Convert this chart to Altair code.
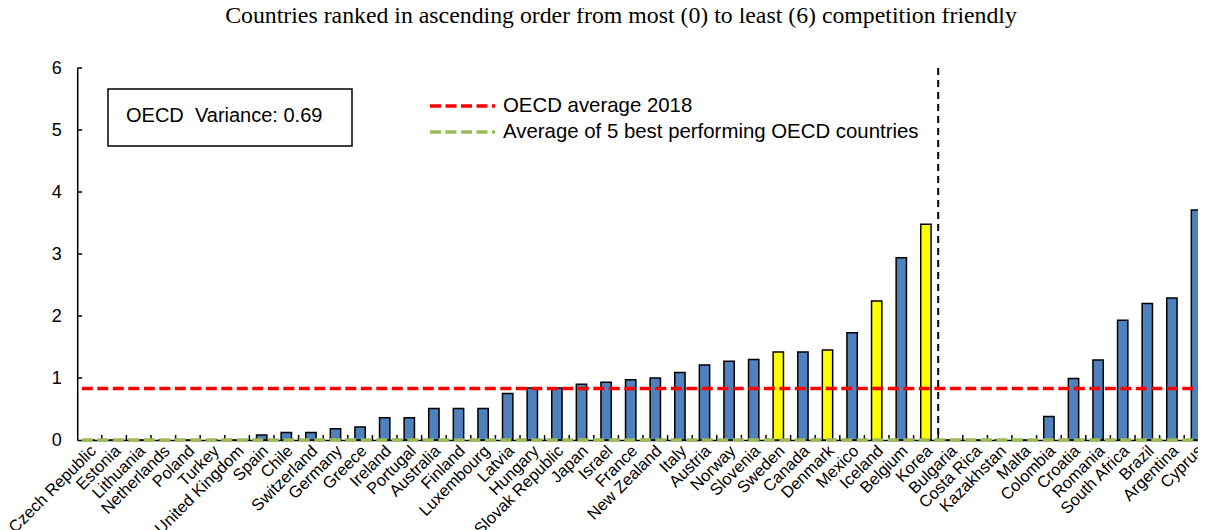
import altair as alt
import pandas as pd

countries = ["Czech Republic", "Estonia", "Lithuania", "Netherlands", "Poland", "Turkey",
             "United Kingdom", "Spain", "Chile", "Switzerland", "Germany", "Greece", "Ireland",
             "Portugal", "Australia", "Finland", "Luxembourg", "Latvia", "Hungary",
             "Slovak Republic", "Japan", "Israel", "France", "New Zealand", "Italy", "Austria",
             "Norway", "Slovenia", "Sweden", "Canada", "Denmark", "Mexico", "Iceland", "Belgium",
             "Korea", "Bulgaria", "Costa Rica", "Kazakhstan", "Malta", "Colombia", "Croatia",
             "Romania", "South Africa", "Brazil", "Argentina", "Cyprus"]
values = [0, 0, 0, 0, 0, 0, 0, 0.08, 0.12, 0.12, 0.18, 0.21, 0.36, 0.36, 0.51, 0.51, 0.51,
          0.75, 0.84, 0.84, 0.90, 0.93, 0.97, 1.00, 1.09, 1.21, 1.27, 1.30, 1.42, 1.42, 1.45,
          1.73, 2.24, 2.94, 3.48, 0, 0, 0, 0, 0.38, 0.99, 1.29, 1.93, 2.20, 2.29, 3.71]
highlighted = ["Sweden", "Denmark", "Iceland", "Korea"]
y_ticks = [0, 1, 2, 3, 4, 5, 6]
oecd_average = 0.83
best5_average = 0.0
divider_after = "Korea"
variance_text = "OECD\u00a0 Variance:\u00a00.69"
legend_labels = ["OECD average 2018", "Average of 5 best performing OECD countries"]
title_text = "Countries ranked in ascending order from most (0) to least (6) competition friendly"

SANS = "Liberation Sans"
SERIF = "Liberation Serif"
PAD_INNER = 0.58
STEP = 24.6
WIDTH = STEP * len(countries)
HEIGHT = 372
LEFT = 69.2          # page x of plot origin = 8 + LEFT
SVG_W = 1190         # available width inside the page margins
RIGHT = SVG_W - LEFT - WIDTH   # negative: the plot runs past the right edge, as in the original
OX = 8 + LEFT

df = pd.DataFrame({
    "country": countries,
    "value": values,
    "group": ["yellow" if c in highlighted else "blue" for c in countries],
})

xscale = alt.Scale(domain=countries, paddingInner=PAD_INNER, paddingOuter=PAD_INNER / 2)
yscale = alt.Scale(domain=[0, 6])

bars = alt.Chart(df).mark_bar(stroke="black", strokeWidth=1.5).encode(
    x=alt.X("country:N", scale=xscale, sort=countries, title=None,
            axis=alt.Axis(labelAngle=-45, labelAlign="right", labelBaseline="middle",
                          labelFont=SANS, labelFontSize=16.5, labelColor="black",
                          labelPadding=3, labelOffset=4, tickSize=5, tickOpacity=0,
                          domainColor="black", domainWidth=1.5, labelOverlap=False,
                          labelBound=False)),
    y=alt.Y("value:Q", scale=yscale, title=None,
            axis=alt.Axis(values=y_ticks, format="d", labelFont=SANS, labelFontSize=18,
                          labelColor="black", labelPadding=11, tickSize=5, tickOpacity=0,
                          domainColor="black", domainWidth=1.5, gridColor="white",
                          gridWidth=1.2)),
    color=alt.Color("group:N", scale=alt.Scale(domain=["blue", "yellow"],
                                               range=["#4F81BD", "#FFFF00"]), legend=None),
)

# inward tick marks on both axes
ytick_df = pd.DataFrame({"v": y_ticks[1:]})
yticks = alt.Chart(ytick_df).mark_rule(color="black", strokeWidth=1.5).encode(
    y=alt.Y("v:Q", scale=yscale), x=alt.value(0), x2=alt.value(5))
xtick_df = pd.DataFrame({"country": countries[:-1]})
xticks = alt.Chart(xtick_df).mark_rule(color="black", strokeWidth=1.5,
                                       xOffset=STEP * PAD_INNER / 2).encode(
    x=alt.X("country:N", scale=xscale, sort=countries, bandPosition=1),
    y=alt.value(HEIGHT - 5), y2=alt.value(HEIGHT))

lines_df = pd.DataFrame({"label": legend_labels, "y": [oecd_average, best5_average]})
red_line = alt.Chart(lines_df).transform_filter(alt.datum.label == legend_labels[0]).mark_rule(
    color="#FF0000", strokeWidth=3.5, strokeDash=[11, 4.5]).encode(y=alt.Y("y:Q", scale=yscale))
green_line = alt.Chart(lines_df).transform_filter(alt.datum.label == legend_labels[1]).mark_rule(
    color="#9BBB59", strokeWidth=3.5, strokeDash=[11, 4.5]).encode(y=alt.Y("y:Q", scale=yscale))

div_df = pd.DataFrame({"country": [divider_after]})
divider = alt.Chart(div_df).mark_rule(color="black", strokeWidth=2, strokeDash=[7, 5],
                                      xOffset=STEP * PAD_INNER / 2).encode(
    x=alt.X("country:N", scale=xscale, sort=countries, bandPosition=1),
)

# Annotation box with variance
box_df = pd.DataFrame({"t": [variance_text]})
box = alt.Chart(box_df).mark_rect(fill="white", stroke="black", strokeWidth=1.5).encode(
    x=alt.value(108 - OX), x2=alt.value(352 - OX), y=alt.value(21), y2=alt.value(78))
box_text = alt.Chart(box_df).mark_text(font=SANS, fontSize=20, align="left",
                                       baseline="middle", color="black").encode(
    x=alt.value(126 - OX), y=alt.value(48), text="t:N")

# Manual legend
leg_df = pd.DataFrame({"label": legend_labels, "color": ["#FF0000", "#9BBB59"],
                       "ypix": [38, 64]})
leg_lines = alt.Chart(leg_df).mark_rule(strokeWidth=3.5, strokeDash=[11, 4.5]).encode(
    x=alt.value(430 - OX), x2=alt.value(495 - OX), y=alt.Y("ypix:Q", scale=None),
    color=alt.Color("color:N", scale=None))
leg_text = alt.Chart(leg_df).mark_text(font=SANS, fontSize=20.4, align="left",
                                       baseline="middle", color="black").encode(
    x=alt.value(503 - OX), y=alt.Y("ypix:Q", scale=None), text="label:N")

chart = alt.layer(bars, yticks, xticks, green_line, red_line, divider, box, box_text,
                  leg_lines, leg_text).properties(
    width=WIDTH, height=HEIGHT,
    autosize=alt.AutoSizeParams(type="none"),
    padding={"left": LEFT, "top": 60, "right": RIGHT, "bottom": 90},
    title=alt.TitleParams(title_text, font=SERIF, fontSize=23.8, fontWeight="normal",
                          color="black", anchor="middle", offset=31,
                          dx=621 - (OX + WIDTH / 2)),
).configure_view(fill="#F0FFFF", stroke="black", strokeWidth=1.5).configure(
    background="white")

chart.save("out.html", embed_options={"renderer": "svg", "actions": False})
